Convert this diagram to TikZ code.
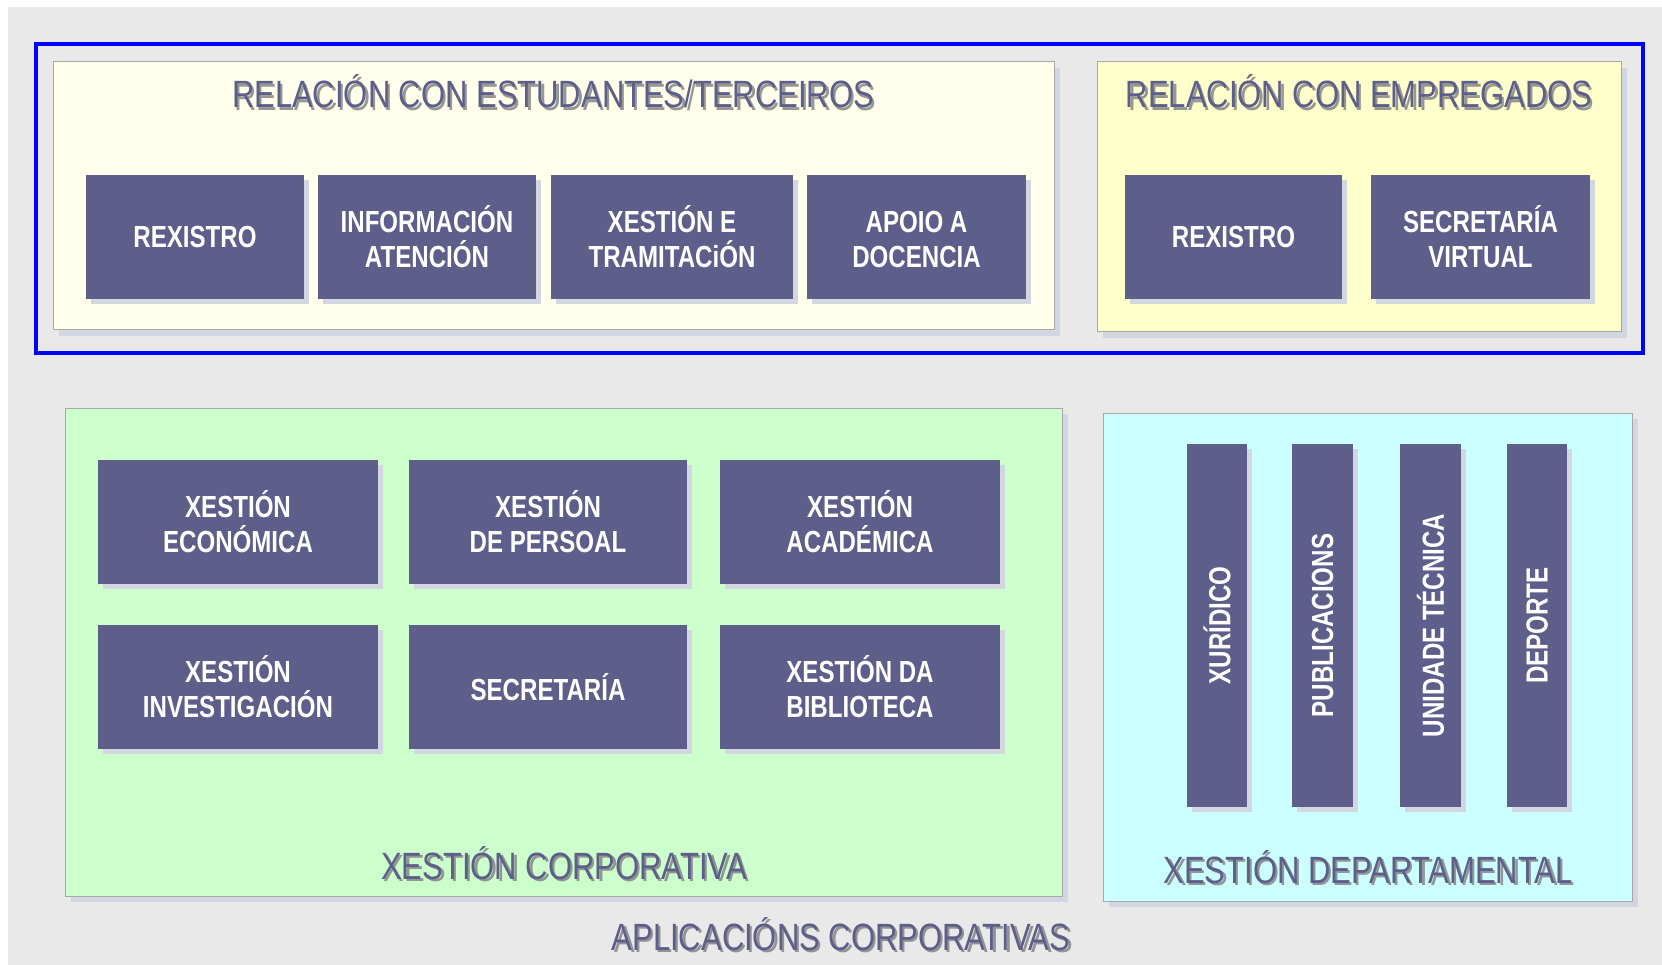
\documentclass[tikz,border=0pt]{standalone}
\usepackage{fontspec}
\setmainfont{Liberation Sans}
\newfontfamily\narrowsans[FakeStretch=0.79]{Liberation Sans}
\newfontfamily\headsans[FakeStretch=0.815]{Liberation Sans}
\usepackage{tikz}
\usetikzlibrary{shadows}
\definecolor{bgGray}{HTML}{E9E9E9}
\definecolor{boxPurple}{HTML}{5E5E8B}
\definecolor{boxShade}{HTML}{D2D6E0}
\definecolor{panelEdge}{HTML}{A8A8A8}
\definecolor{headShade}{HTML}{858585}
\definecolor{paleYellow}{HTML}{FFFFEC}
\definecolor{softYellow}{HTML}{FFFFCC}
\definecolor{softGreen}{HTML}{CCFFCC}
\definecolor{softCyan}{HTML}{CCFFFF}
\definecolor{frameBlue}{HTML}{0000FF}

\tikzset{
  panel/.style={draw=panelEdge, line width=1pt, inner sep=0,
    drop shadow={shadow xshift=6pt, shadow yshift=-6pt, fill=boxShade, opacity=1}},
  appbox/.style={fill=boxPurple, text=white, align=center, inner sep=0,
    font=\narrowsans\bfseries\fontsize{30.5}{35}\selectfont,
    drop shadow={shadow xshift=5pt, shadow yshift=-5pt, fill=boxShade, opacity=1}},
  heading/.style={text=boxPurple, anchor=base, inner sep=0,
    font=\headsans\fontsize{38}{42}\selectfont},
  headshadow/.style={heading, text=headShade, opacity=0.85}
}

\begin{document}
\begin{tikzpicture}[x=1pt, y=-1pt]

  \useasboundingbox (0,0) rectangle (1662,965);
  \fill[bgGray] (8,7) rectangle (1662,965);

  % relacion con estudantes / empregados
  \node[panel, fill=paleYellow, minimum width=1001pt, minimum height=268pt] (estud) at (553.5,196) {};
  \node[panel, fill=softYellow, minimum width=524pt, minimum height=270pt] (empreg) at (1359,197) {};
  \draw[frameBlue, line width=4pt] (36,44) rectangle (1643,353);

  \node[headshadow] (estudTs) at (555.5,110.5) {RELACIÓN CON ESTUDANTES/TERCEIROS};
  \node[heading] (estudT) at (553,108) {RELACIÓN CON ESTUDANTES/TERCEIROS};
  \node[headshadow] (empregTs) at (1361.5,110.5) {RELACIÓN CON EMPREGADOS};
  \node[heading] (empregT) at (1359,108) {RELACIÓN CON EMPREGADOS};

  \node[appbox, minimum width=218pt, minimum height=124pt] (rexE) at (195,237) {REXISTRO};
  \node[appbox, minimum width=218pt, minimum height=124pt] (infor) at (427,237) {INFORMACIÓN\\ATENCIÓN};
  \node[appbox, minimum width=242pt, minimum height=124pt] (trami) at (672,237) {XESTIÓN E\\TRAMITACiÓN};
  \node[appbox, minimum width=219pt, minimum height=124pt] (apoio) at (916.5,237) {\vphantom{Ó}APOIO A\\DOCENCIA};
  \node[appbox, minimum width=217pt, minimum height=124pt] (rexP) at (1233.5,237) {REXISTRO};
  \node[appbox, minimum width=219pt, minimum height=124pt] (secV) at (1480.5,237) {SECRETARÍA\\VIRTUAL};

  % xestion corporativa
  \node[panel, fill=softGreen, minimum width=997pt, minimum height=488pt] (corpo) at (563.5,652) {};
  \node[appbox, minimum width=280pt, minimum height=124pt] (econ) at (238,522) {XESTIÓN\\ECONÓMICA};
  \node[appbox, minimum width=278pt, minimum height=124pt] (perso) at (548,522) {XESTIÓN\\DE PERSOAL};
  \node[appbox, minimum width=280pt, minimum height=124pt] (acad) at (860,522) {XESTIÓN\\ACADÉMICA};
  \node[appbox, minimum width=280pt, minimum height=124pt] (inves) at (238,687) {XESTIÓN\\INVESTIGACIÓN};
  \node[appbox, minimum width=278pt, minimum height=124pt] (secre) at (548,687) {SECRETARÍA};
  \node[appbox, minimum width=280pt, minimum height=124pt] (bibli) at (860,687) {XESTIÓN DA\\BIBLIOTECA};
  \node[headshadow] (corpoTs) at (566.5,881.5) {XESTIÓN CORPORATIVA};
  \node[heading] (corpoT) at (564,879) {XESTIÓN CORPORATIVA};

  % xestion departamental
  \node[panel, fill=softCyan, minimum width=529pt, minimum height=488pt] (depar) at (1367.5,657) {};
  \node[appbox, minimum width=60pt, minimum height=363pt] (xuri) at (1217,625.5) {\rotatebox{90}{XURÍDICO}};
  \node[appbox, minimum width=61pt, minimum height=363pt] (publi) at (1322.5,625.5) {\rotatebox{90}{PUBLICACIONS}};
  \node[appbox, minimum width=61pt, minimum height=363pt] (tecni) at (1430.5,625.5) {\rotatebox{90}{UNIDADE TÉCNICA}};
  \node[appbox, minimum width=60pt, minimum height=363pt] (depor) at (1537,625.5) {\rotatebox{90}{DEPORTE}};
  \node[headshadow] (deparTs) at (1370.5,885.5) {XESTIÓN DEPARTAMENTAL};
  \node[heading] (deparT) at (1368,883) {XESTIÓN DEPARTAMENTAL};

  \node[headshadow] (aplicTs) at (843.5,952.5) {APLICACIÓNS CORPORATIVAS};
  \node[heading] (aplicT) at (841,950) {APLICACIÓNS CORPORATIVAS};

\end{tikzpicture}
\end{document}
